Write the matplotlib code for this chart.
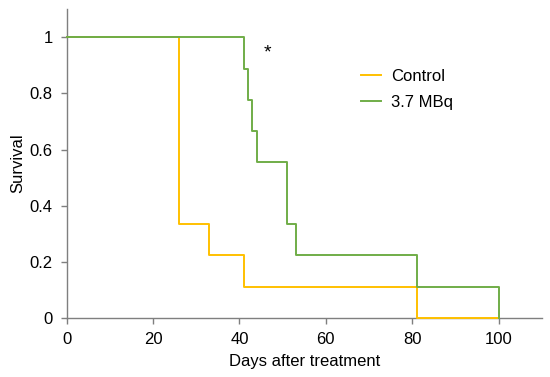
import matplotlib
matplotlib.use("Agg")
import matplotlib.pyplot as plt

plt.rcParams['font.family'] = ['Liberation Sans', 'DejaVu Sans']

control_days = [0, 26, 33, 41, 81, 100]
control_surv = [1.0, 0.333, 0.222, 0.111, 0.0, 0.0]
treat_days = [0, 41, 42, 43, 44, 51, 53, 81, 100]
treat_surv = [1.0, 0.889, 0.778, 0.667, 0.556, 0.333, 0.222, 0.111, 0.0]
series_labels = ["Control", "3.7 MBq"]
xticks = [0, 20, 40, 60, 80, 100]
yticks = [0, 0.2, 0.4, 0.6, 0.8, 1]
ytick_labels = ["0", "0.2", "0.4", "0.6", "0.8", "1"]

fig = plt.figure(figsize=(5.5, 3.77), dpi=100)
ax = fig.add_axes([0.1213, 0.1573, 0.8637, 0.8177])

ax.step(control_days, control_surv, where='post', color='#FFC000', lw=1.4,
        label=series_labels[0], clip_on=False, zorder=3)
ax.step(treat_days, treat_surv, where='post', color='#70AD47', lw=1.4,
        label=series_labels[1], clip_on=False, zorder=4)

ax.set_xlim(0, 110)
ax.set_ylim(0, 1.1)
ax.set_xticks(xticks)
ax.set_yticks(yticks)
ax.set_yticklabels(ytick_labels)
ax.tick_params(labelsize=12, colors='#7f7f7f', labelcolor='black', length=4, width=1, pad=6)
for s in ['top', 'right']:
    ax.spines[s].set_visible(False)
for s in ['left', 'bottom']:
    ax.spines[s].set_color('#7f7f7f')
    ax.spines[s].set_linewidth(1)

ax.set_xlabel("Days after treatment", fontsize=12, labelpad=5)
ax.set_ylabel("Survival", fontsize=12, labelpad=3)

ax.text(46.5, 0.945, "*", fontsize=14, ha='center', va='center')

ax.legend(loc='upper left', bbox_to_anchor=(0.592, 0.85), frameon=False, fontsize=12,
          handlelength=1.2, handletextpad=0.6, labelspacing=0.65, borderpad=0.3)

fig.savefig("out.png", dpi=100)
